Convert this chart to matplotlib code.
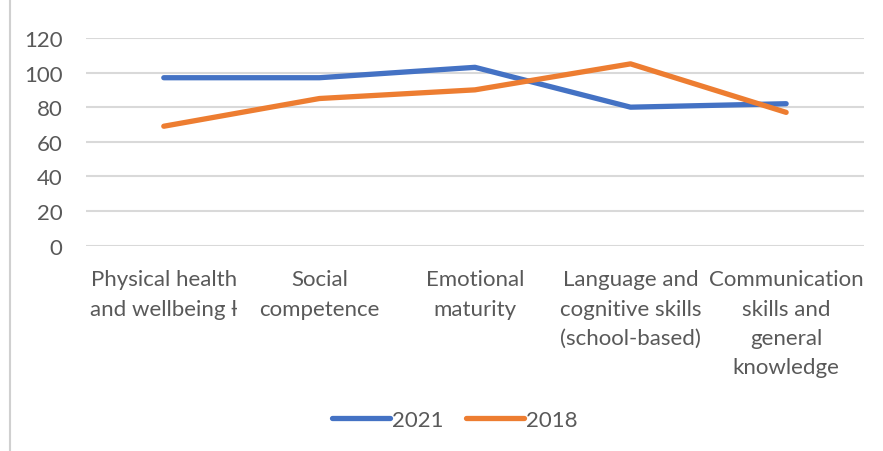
import matplotlib.pyplot as plt
from matplotlib.lines import Line2D

categories = [
    "Physical health\nand wellbeing \u019a",
    "Social\ncompetence",
    "Emotional\nmaturity",
    "Language and\ncognitive skills\n(school-based)",
    "Communication\nskills and\ngeneral\nknowledge",
]
y2021 = [97, 97, 103, 80, 82]
y2018 = [69, 85, 90, 105, 77]
yticks = [0, 20, 40, 60, 80, 100, 120]

blue = "#4472C4"
orange = "#ED7D31"
txt = "#595959"

plt.rcParams["font.family"] = ["Lato", "DejaVu Sans"]

fig = plt.figure(figsize=(8.83, 4.52), dpi=100)
ax = fig.add_axes([0.0974, 0.454, 0.881, 0.46])

x = range(len(categories))
ax.plot(x, y2021, color=blue, lw=3.8, solid_capstyle="round", label="2021")
ax.plot(x, y2018, color=orange, lw=3.8, solid_capstyle="round", label="2018")

ax.set_xlim(-0.5, len(categories) - 0.5)
ax.set_ylim(0, 120)
ax.set_yticks(yticks)
ax.set_xticks(list(x))
ax.set_xticklabels(categories, linespacing=1.58, va="top")
ax.tick_params(axis="both", length=0, colors=txt, labelsize=16)
ax.tick_params(axis="x", pad=17)
ax.tick_params(axis="y", pad=17)
ax.grid(axis="y", color="#D9D9D9", lw=1.5)
ax.set_axisbelow(True)
for s in ax.spines.values():
    s.set_visible(False)

handles = [Line2D([], [], color=blue, lw=3.8, solid_capstyle="round"),
           Line2D([], [], color=orange, lw=3.8, solid_capstyle="round")]
fig.legend(handles, ["2021", "2018"], loc="center", bbox_to_anchor=(0.515, 0.068),
           ncol=2, frameon=False, fontsize=16, labelcolor=txt,
           handlelength=2.6, handletextpad=0.1, columnspacing=1.0)

# outer chart border
fig.add_artist(Line2D([0.011, 0.011], [0, 1], transform=fig.transFigure,
                      color="#D0D0D0", lw=1.5))

fig.savefig("out.png", dpi=100)
